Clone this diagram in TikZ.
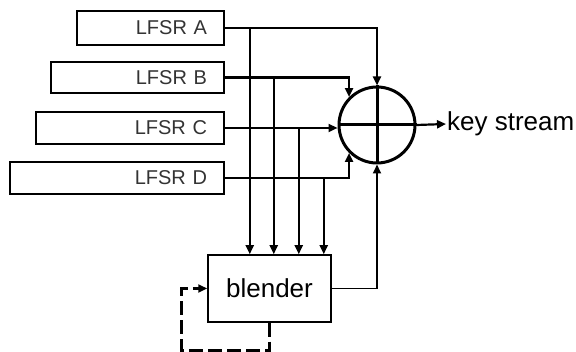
\documentclass[tikz,border=0pt]{standalone}
\usepackage{fontspec}
\setmainfont{Liberation Sans}
\usetikzlibrary{arrows.meta,calc}
\begin{document}
\begin{tikzpicture}[x=1pt,y=-1pt,
  lfsr/.style={draw,line width=1.5pt,inner xsep=17pt,inner ysep=0pt,align=right,
    font=\fontsize{20}{22}\selectfont,text=black!80},
  conn/.style={line width=2.2pt,-{Triangle[length=9pt,width=8pt]}},
  xorc/.style={draw,circle,line width=3pt,minimum size=76pt,inner sep=0pt},
  blend/.style={draw,line width=1.5pt,minimum width=123pt,minimum height=67pt,inner sep=0pt,
    font=\fontsize{26}{28}\selectfont},
  lab/.style={font=\fontsize{26}{28}\selectfont,inner sep=1pt,anchor=west}]
\useasboundingbox (0,0) rectangle (576,352);
% LFSR boxes
\node[lfsr,text width=113pt,minimum height=34pt] (A) at (150.5,28) {LFSR A};
\node[lfsr,text width=139pt,minimum height=31pt] (B) at (137.5,77.5) {LFSR B};
\node[lfsr,text width=154pt,minimum height=32pt] (C) at (130,128) {LFSR C};
\node[lfsr,text width=180pt,minimum height=32pt] (D) at (117,178) {LFSR D};
% XOR circle
\node[xorc] (X) at (377,125) {};
\draw[line width=3pt] (X.north) -- (X.south);
\draw[line width=3pt] (X.west) -- (X.east);
% blender
\node[blend] (bl) at (269.5,288.5) {blender};
% output
\node[lab] (ks) at (446,124) {key stream};
% junction coordinates
\coordinate (ja) at ($(A.east)+(25,0)$);
\coordinate (jb) at ($(B.east)+(49,0)$);
\coordinate (jc) at ($(C.east)+(74,0)$);
\coordinate (jd) at ($(D.east)+(99,0)$);
% LFSR to XOR
\draw[conn] (A.east) -| (X.north);
\draw[conn] (B.east) -| (X.135);
\draw[conn] (C.east) -- (C.east -| X.west);
\draw[conn] (D.east) -| (X.225);
% LFSR to blender
\draw[conn] (ja) -- (ja |- bl.north);
\draw[conn] (jb) -- (jb |- bl.north);
\draw[conn] (jc) -- (jc |- bl.north);
\draw[conn] (jd) -- (jd |- bl.north);
% blender to XOR
\draw[conn,line width=1.8pt] (bl.east) -| (X.south);
% output
\draw[conn] (X.east) -- (ks.west);
% feedback
\coordinate (fb) at ($(bl.south)+(0,28)$);
\coordinate (fl) at ($(bl.west)+(-26,0)$);
\draw[line width=3.2pt,dash pattern=on 14pt off 5pt,-{Triangle[length=9pt,width=8pt]}]
  (bl.south) -- (fb) -| (fl) -- (bl.west);
\end{tikzpicture}
\end{document}
